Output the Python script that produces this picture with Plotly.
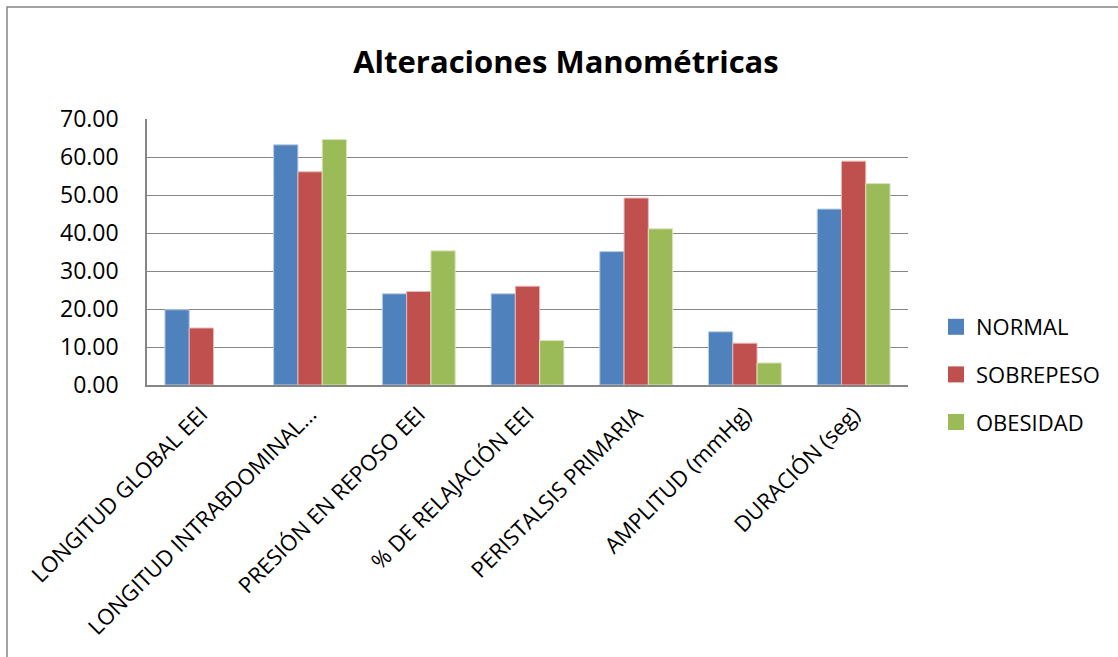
import plotly.graph_objects as go

categories = ["LONGITUD GLOBAL EEI", "LONGITUD INTRABDOMINAL…", "PRESIÓN EN REPOSO EEI",
              "% DE RELAJACIÓN EEI", "PERISTALSIS PRIMARIA", "AMPLITUD (mmHg)", "DURACIÓN (seg)"]
normal = [19.8, 63.2, 24.0, 24.0, 35.1, 14.0, 46.3]
sobrepeso = [15.0, 56.1, 24.6, 26.0, 49.2, 11.0, 58.9]
obesidad = [0.0, 64.6, 35.3, 11.7, 41.1, 5.8, 53.0]
series_names = ["NORMAL", "SOBREPESO", "OBESIDAD"]
colors = ["#4F81BD", "#C0504D", "#9BBB59"]
line_colors = ["#B9CDE5", "#E6B9B8", "#D7E4BD"]

W, H = 1118, 657
L, R, T, B = 147, 908, 119, 385

fig = go.Figure()
for i, (name, vals) in enumerate(zip(series_names, [normal, sobrepeso, obesidad])):
    fig.add_trace(go.Bar(
        x=categories, y=vals, name=name, legendgroup=name, showlegend=False,
        marker=dict(color=colors[i],
                    line=dict(color=line_colors[i], width=[0 if v == 0 else 1 for v in vals])),
    ))
# legend entries with larger square symbols
for i, name in enumerate(series_names):
    fig.add_trace(go.Scatter(
        x=[None], y=[None], mode="markers", name=name, legendgroup=name,
        marker=dict(symbol="square", size=16, color=colors[i]),
        hoverinfo="skip",
    ))

font_family = "'Open Sans', Lato, sans-serif"

def px_to_paper_x(px):
    return (px - L) / (R - L)

def px_to_paper_y(py):
    return (B - py) / (B - T)

fig.update_layout(
    width=W, height=H,
    margin=dict(l=L, r=W - R, t=T, b=H - B, autoexpand=False),
    paper_bgcolor="white", plot_bgcolor="white",
    font=dict(family=font_family, size=22, color="#000000"),
    barmode="group", bargap=0.33, bargroupgap=0,
    title=dict(text="<b>Alteraciones Manométricas</b>", x=566 / W, xanchor="center",
               y=1 - 62 / H, yanchor="middle", yref="container", xref="container",
               font=dict(size=31, family=font_family)),
    legend=dict(x=px_to_paper_x(936), xanchor="left", y=px_to_paper_y(306), yanchor="top",
                font=dict(size=22), tracegroupgap=16, bgcolor="rgba(0,0,0,0)",
                itemwidth=30, itemsizing="trace"),
    showlegend=True,
    xaxis=dict(tickangle=-45, showline=True, linecolor="#868686", linewidth=1.5,
               showgrid=False, ticks="", tickfont=dict(size=22), fixedrange=True,
               ticklabelstandoff=6, categoryorder="array", categoryarray=categories),
    yaxis=dict(range=[0, 70], dtick=10, tickformat=".2f", showgrid=True,
               gridcolor="#868686", gridwidth=1.3, showline=True, linecolor="#868686",
               linewidth=1.5, ticks="", ticklabelstandoff=22, tickfont=dict(size=23),
               zeroline=False),
    shapes=[dict(type="rect", xref="paper", yref="paper",
                 x0=px_to_paper_x(7), x1=px_to_paper_x(W + 10),
                 y0=px_to_paper_y(H + 10), y1=px_to_paper_y(7),
                 line=dict(color="#868686", width=1.5), layer="below")],
)

fig.write_html("out.html")
